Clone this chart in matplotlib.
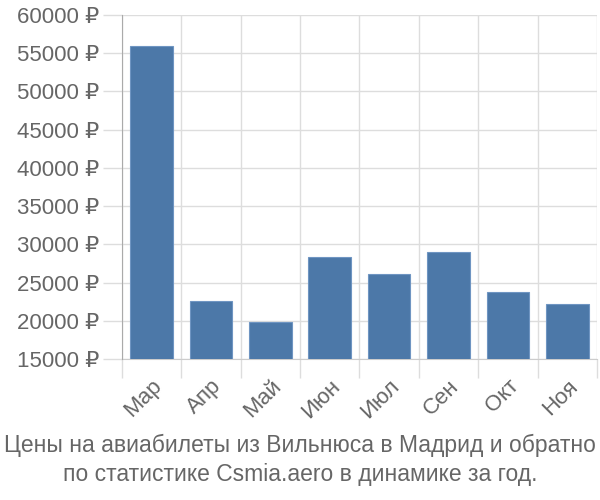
import numpy as np
import matplotlib
matplotlib.use("Agg")
import matplotlib.pyplot as plt
from matplotlib.ticker import FuncFormatter, FixedLocator

months = ["Мар", "Апр", "Май", "Июн", "Июл", "Сен", "Окт", "Ноя"]
prices = [55900, 22600, 19850, 28400, 26100, 28950, 23750, 22200]
y_ticks = [15000, 20000, 25000, 30000, 35000, 40000, 45000, 50000, 55000, 60000]
title = "Цены на авиабилеты из Вильнюса в Мадрид и обратно\nпо статистике Csmia.aero в динамике за год."

plt.rcParams['font.family'] = ['Liberation Sans', 'DejaVu Sans']

fig = plt.figure(figsize=(6, 5), dpi=100)
ax = fig.add_axes([0.203, 0.282, 0.792, 0.688])

x = np.arange(len(months))
ax.bar(x, prices, width=0.72, color="#4c78a8", edgecolor="#6f95c2", linewidth=0.8, zorder=3)

ax.set_xlim(-0.5, len(months) - 0.5)
ax.set_ylim(y_ticks[0], y_ticks[-1])

grid_c = "#dddddd"
ax.set_yticks(y_ticks)
ax.yaxis.set_major_formatter(FuncFormatter(lambda v, p: f"{int(v)} ₽"))
ax.set_xticks(x)
ax.set_xticklabels(months, rotation=45, ha="right", rotation_mode="anchor")
ax.xaxis.set_minor_locator(FixedLocator(np.arange(-0.5, len(months), 1.0)))

ax.tick_params(axis="y", length=14, width=1, color=grid_c, labelsize=16, labelcolor="#666666", pad=2)
ax.tick_params(axis="x", which="major", length=0, labelsize=16, labelcolor="#666666", pad=12)
ax.tick_params(axis="x", which="minor", length=14, width=1, color=grid_c)

ax.grid(axis="y", which="major", color=grid_c, linewidth=1, zorder=0)
ax.grid(axis="x", which="minor", color=grid_c, linewidth=1, zorder=0)

for s in ["top", "right"]:
    ax.spines[s].set_visible(False)
ax.spines["left"].set_color("#aaaaaa")
ax.spines["bottom"].set_color("#cccccc")
ax.spines["left"].set_zorder(4)

fig.text(0.5, 0.08, title, ha="center", va="center", fontsize=16.5, color="#666666", linespacing=1.3)

fig.savefig("out.png", dpi=100)
